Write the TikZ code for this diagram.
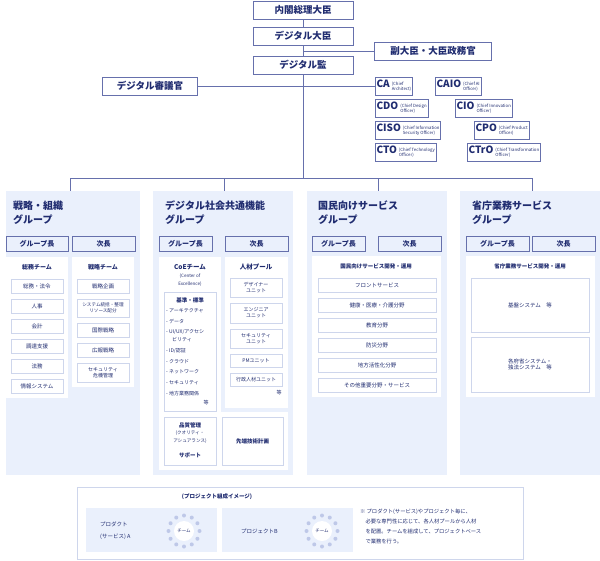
\documentclass[tikz,border=0pt]{standalone}
\usepackage{fontspec}
\setmainfont{Noto Sans CJK JP}
\usetikzlibrary{positioning}
\definecolor{navy}{RGB}{32,44,112}
\definecolor{edge}{RGB}{102,112,172}
\definecolor{panelbg}{RGB}{234,240,252}
\definecolor{lightedge}{RGB}{206,214,236}
\definecolor{dotc}{RGB}{190,200,232}
\newcommand\chiefname[3]{{\fontsize{10}{11}\selectfont\bfseries #1}\hspace{2pt}{\fontsize{4.3}{4.8}\selectfont\begin{tabular}[c]{@{}l@{}}#2\\#3\end{tabular}}}
\tikzset{
  topbox/.style={draw=edge, line width=0.8pt, text=navy, font=\fontsize{9.5}{11}\selectfont\bfseries, minimum height=18pt, inner sep=1pt},
  chiefbox/.style={draw=edge, line width=0.6pt, text=navy, anchor=west, minimum height=18pt, inner sep=1.2pt},
  headbox/.style={draw=edge, fill=panelbg, line width=0.8pt, text=navy, font=\fontsize{7}{8}\selectfont\bfseries},
  itembox/.style={draw=lightedge, fill=white, line width=0.6pt, text=navy, font=\fontsize{5.5}{6.5}\selectfont, align=center},
  link/.style={draw=edge, line width=0.7pt},
  txt/.style={text=navy, font=\fontsize{5.5}{6.5}\selectfont, inner sep=0pt},
  btxt/.style={text=navy, font=\fontsize{6}{7}\selectfont\bfseries, inner sep=0pt, align=center}
}
\begin{document}
\begin{tikzpicture}[x=1pt,y=-1pt]
\useasboundingbox (0,0) rectangle (600,560);
% top of the chart
\node[topbox, minimum width=100pt] (pm) at (303,10) {内閣総理大臣};
\node[topbox, minimum width=100pt] (dm) at (303,36) {デジタル大臣};
\node[topbox, minimum width=100pt] (ds) at (303,65) {デジタル監};
\node[topbox, minimum width=117pt] (vm) at (433,51) {副大臣・大臣政務官};
\node[topbox, minimum width=95pt] (dc) at (150,86) {デジタル審議官};
\draw[link] (pm) -- (dm);
\draw[link] (dm) -- (ds);
\draw[link] (vm.west) -- (vm.west -| dm.south);
% chief officers
\node[chiefbox] (ca) at (375,86) {\chiefname{CA}{(Chief}{Architect)}};
\node[chiefbox] (caio) at (435,86) {\chiefname{CAIO}{(Chief AI}{Officer)}};
\node[chiefbox] (cdo) at (375,108) {\chiefname{CDO}{(Chief Design}{Officer)}};
\node[chiefbox] (cio) at (455,108) {\chiefname{CIO}{(Chief Innovation}{Officer)}};
\node[chiefbox] (ciso) at (375,130) {\chiefname{CISO}{(Chief Information}{Security Officer)}};
\node[chiefbox] (cpo) at (474,130) {\chiefname{CPO}{(Chief Product}{Officer)}};
\node[chiefbox] (cto) at (375,152) {\chiefname{CTO}{(Chief Technology}{Officer)}};
\node[chiefbox] (ctro) at (467,152) {\chiefname{CTrO}{(Chief Transformation}{Officer)}};
\draw[link] (dc) -- (ca);
\coordinate (hub) at (303,178);
\draw[link] (ds) -- (hub);
\draw[link] (70,191) -- (70,178) -- (532,178) -- (532,191);
\draw[link] (224,178) -- (224,191);
\draw[link] (378,178) -- (378,191);
% group panels
\fill[panelbg] (6,191) rectangle (140,475);
\fill[panelbg] (153,191) rectangle (293,475);
\fill[panelbg] (307,191) rectangle (447,475);
\fill[panelbg] (460,191) rectangle (600,475);
\foreach \x/\l/\m in {13/戦略・組織/グループ, 165/デジタル社会共通機能/グループ, 318/国民向けサービス/グループ, 472/省庁業務サービス/グループ}
  \node[text=navy, font=\fontsize{10}{14}\selectfont\bfseries, anchor=north west, align=left, inner sep=0pt] at (\x,201) {\l\\\m};
\foreach \a/\b/\c/\d in {6/68/72/135, 159/212/225/288, 312/365/378/441, 466/529/532/595}{
  \draw[headbox] (\a,236) rectangle (\b,251) node[midway] {グループ長};
  \draw[headbox] (\c,236) rectangle (\d,251) node[midway] {次長};
}
% strategy group
\fill[white] (6,257) rectangle (68,398);
\fill[white] (72,257) rectangle (134,387);
\node[btxt] at (37,267) {総務チーム};
\node[btxt] at (103,267) {戦略チーム};
\foreach \t [count=\i from 0] in {総務・法令, 人事, 会計, 調達支援, 法務, 情報システム}
  \draw[itembox] (11,279+20*\i) rectangle (63,293+20*\i) node[midway] {\t};
\draw[itembox] (77,279) rectangle (129,293) node[midway] {戦略企画};
\draw[itembox] (77,299) rectangle (129,317) node[midway, font=\fontsize{4.6}{5.6}\selectfont] {システム統括・整理\\リソース配分};
\draw[itembox] (77,323) rectangle (129,337) node[midway] {国際戦略};
\draw[itembox] (77,343) rectangle (129,357) node[midway] {広報戦略};
\draw[itembox] (77,363) rectangle (129,382) node[midway, font=\fontsize{5}{6}\selectfont] {セキュリティ\\危機管理};
% common functions group
\fill[white] (159,257) rectangle (221,412);
\fill[white] (225,257) rectangle (288,408);
\fill[white] (159,412) rectangle (288,470);
\node[btxt, font=\fontsize{6.5}{7}\selectfont\bfseries] at (190,267) {CoEチーム};
\node[txt, font=\fontsize{4.5}{7.5}\selectfont, align=center] at (190,280) {(Center of\\Excellence)};
\draw[itembox] (164,292) rectangle (216,411);
\node[btxt, font=\fontsize{5.5}{6}\selectfont\bfseries] at (190,300) {基準・標準};
\foreach \t/\y in {アーキテクチャ/311, データ/322, {UI/UX/アクセシ}/332, {ID/認証}/351, クラウド/362, ネットワーク/372, セキュリティ/383, 地方業務関係/394}
  \node[txt, anchor=west, font=\fontsize{5}{6}\selectfont] at (166,\y) {- \t};
\node[txt, anchor=west, font=\fontsize{5}{6}\selectfont] at (172,340) {ビリティ};
\node[txt, font=\fontsize{5}{6}\selectfont] at (206,403) {等};
\node[btxt, font=\fontsize{6.5}{7}\selectfont\bfseries] at (256,267) {人材プール};
\draw[itembox] (230,278) rectangle (282,297) node[midway, font=\fontsize{5}{6}\selectfont] {デザイナー\\ユニット};
\draw[itembox] (230,303) rectangle (282,323) node[midway, font=\fontsize{5}{6}\selectfont] {エンジニア\\ユニット};
\draw[itembox] (230,329) rectangle (282,348) node[midway, font=\fontsize{5}{6}\selectfont] {セキュリティ\\ユニット};
\draw[itembox] (230,354) rectangle (282,367) node[midway, font=\fontsize{5}{6}\selectfont] {PMユニット};
\draw[itembox] (230,373) rectangle (282,386) node[midway, font=\fontsize{5}{6}\selectfont] {行政人材ユニット};
\node[txt, font=\fontsize{5}{6}\selectfont] at (279,393) {等};
\draw[itembox] (164,417) rectangle (216,465);
\node[btxt, font=\fontsize{5.5}{6}\selectfont\bfseries] at (190,425) {品質管理};
\node[txt, align=center, font=\fontsize{4.6}{7.5}\selectfont] at (190,437) {(クオリティ・\\アシュアランス)};
\node[btxt, font=\fontsize{5.5}{6}\selectfont\bfseries] at (190,455) {サポート};
\draw[itembox] (222,417) rectangle (283,465) node[midway, font=\fontsize{5.5}{6}\selectfont\bfseries] {先端技術計画};
% citizen service group
\fill[white] (312,256) rectangle (441,397);
\node[btxt, font=\fontsize{5.5}{6}\selectfont\bfseries] at (376,266) {国民向けサービス開発・運用};
\foreach \t [count=\i from 0] in {フロントサービス, 健康・医療・介護分野, 教育分野, 防災分野, 地方活性化分野, その他重要分野・サービス}
  \draw[itembox] (318,278+20*\i) rectangle (436,292+20*\i) node[midway] {\t};
% ministry service group
\fill[white] (466,256) rectangle (595,397);
\node[btxt, font=\fontsize{5.5}{6}\selectfont\bfseries] at (530,266) {省庁業務サービス開発・運用};
\draw[itembox] (471,278) rectangle (589,332) node[midway] {基盤システム\quad 等};
\draw[itembox] (471,337) rectangle (589,392) node[midway] {各府省システム・\\独法システム\quad 等};
% project image
\draw[lightedge, line width=0.6pt] (77,487) rectangle (523,559);
\node[btxt, font=\fontsize{5.5}{6}\selectfont\bfseries] at (217,497) {(プロジェクト組成イメージ)};
\fill[panelbg] (86,508) rectangle (217,552);
\fill[panelbg] (222,508) rectangle (353,552);
\node[txt, align=left, anchor=west, font=\fontsize{5.5}{12}\selectfont] at (100,531) {プロダクト\\(サービス) A};
\node[txt, anchor=west] at (241,531) {プロジェクトB};
\foreach \cx/\nm in {184/teama, 322/teamb}{
  \foreach \a in {0,30,...,330}
    \fill[dotc] (\cx,531) ++(\a:15.5) circle (2pt);
  \node[circle, fill=white, minimum size=20pt, inner sep=0pt, txt, font=\fontsize{4.5}{5}\selectfont] (\nm) at (\cx,531) {チーム};
}
\node[txt, anchor=north west, align=left, font=\fontsize{5.3}{10}\selectfont] at (360,509) {※ プロダクト(サービス)やプロジェクト毎に、\\\quad 必要な専門性に応じて、各人材プールから人材\\\quad を配置。チームを組成して、プロジェクトベース\\\quad で業務を行う。};
\end{tikzpicture}
\end{document}
